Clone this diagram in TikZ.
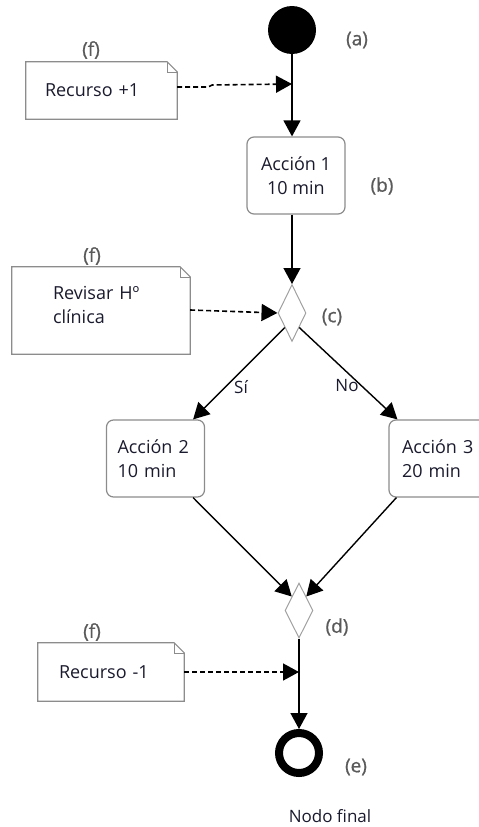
\documentclass[tikz,border=0pt]{standalone}
\usepackage{fontspec}
\setmainfont{Open Sans}
\newfontfamily\tagfont{Open Sans}[FakeBold=0.9]
\usetikzlibrary{arrows.meta,shapes.geometric,calc}
\definecolor{boxline}{HTML}{8C8C8C}
\definecolor{diamline}{HTML}{A0A0A0}
\definecolor{txt}{HTML}{1A1A2E}
\definecolor{tagc}{HTML}{5A5A5A}

\begin{document}
\begin{tikzpicture}[x=1pt,y=-1pt,
  every node/.style={font=\fontsize{18}{24}\selectfont, text=txt},
  flow/.style={line width=1.4pt, -{Triangle[length=16pt,width=17pt]}},
  dep/.style={line width=1.6pt, dash pattern=on 5pt off 3pt, -{Triangle[length=16pt,width=17pt]}},
  action/.style={draw=boxline, line width=1.2pt, rounded corners=7pt,
    minimum height=77pt, inner ysep=0pt},
  decision/.style={diamond, draw=diamline, line width=1pt, minimum width=28pt,
    minimum height=57pt, inner sep=0pt},
  notebox/.style={rectangle, inner ysep=0pt, align=left},
  noteline/.style={draw=boxline, line width=1.2pt},
  foldline/.style={draw=boxline, line width=0.6pt},
  tag/.style={text=tagc, font=\tagfont\fontsize{19}{22}\selectfont},
]
\useasboundingbox (0,0) rectangle (479,827);
\clip (0,0) rectangle (479,827);

% initial and final nodes
\node[circle, fill=black, minimum size=48pt, inner sep=0pt] (start) at (292,30) {};
\node[circle, draw=black, line width=8pt, minimum size=40pt, inner sep=0pt] (final) at (299,753) {};

% actions
\node[action, align=center, minimum width=98pt, inner xsep=0pt] (a1) at (296,175.5) {Acción 1\\10 min};
\node[action, align=left, inner xsep=11pt, text width=76pt] (a2) at (155.5,458.5) {Acción 2\\10 min};
\node[action, align=left, inner xsep=13pt, text width=74pt] (a3) at (439,458.5) {Acción 3\\20 min};

% decision and merge
\node[decision] (c) at (292,313) {};
\node[decision, minimum height=55pt] (d) at (299,610.5) {};

% notes
\node[notebox, inner xsep=19pt, text width=113pt, minimum height=57pt] (n1) at (101.5,90.5) {Recurso +1};
\node[notebox, inner xsep=41pt, text width=96pt, minimum height=87pt] (n2) at (101,310.5) {Revisar Hº\\clínica\rule[-12pt]{0pt}{0pt}};
\node[notebox, inner xsep=21pt, text width=104pt, minimum height=58pt] (n3) at (111,672) {Recurso -1};

\foreach \n in {n1,n2,n3}{
  \draw[noteline] (\n.north west) -- ($(\n.north east)+(-10,0)$)
    -- ($(\n.north east)+(0,10)$) -- (\n.south east) -- (\n.south west) -- cycle;
  \draw[foldline] ($(\n.north east)+(-10,0)$) |- ($(\n.north east)+(0,10)$);
}

% labels
\node[tag] (ta) at (357,40) {(a)};
\node[tag] (tb) at (382,186) {(b)};
\node[tag] (tc) at (332,317) {(c)};
\node[tag] (td) at (337,627) {(d)};
\node[tag] (te) at (356,767) {(e)};
\node[tag] (f1) at (91,50) {(f)};
\node[tag] (f2) at (92,256) {(f)};
\node[tag] (f3) at (92,632) {(f)};
\node[font=\fontsize{17}{20}\selectfont] (si) at (241,387) {Sí};
\node[font=\fontsize{17}{20}\selectfont] (no) at (347,386) {No};
\node[font=\fontsize{17}{20}\selectfont] (fin) at (330,816) {Nodo final};

% control flow
\draw[flow] (start) -- (start |- a1.north);
\draw[flow] (a1.south -| c.north) -- (c.north);
\draw[flow] (c.south west) -- ($(a2.north east)+(-12,0)$);
\draw[flow] (c.south east) -- ($(a3.north west)+(9,0)$);
\draw[flow] ($(a2.south east)+(-12,0)$) -- (d.north west);
\draw[flow] ($(a3.south west)+(8,0)$) -- (d.north east);
\draw[flow] (d.south) -- (final);

% resource notes attached to the flow
\coordinate (p1) at (292,84);
\coordinate (p3) at (299,672);
\draw[dep] (n1.east |- 0,87) -- ++(31,0) -- ++(4,-2) -- (p1);
\draw[dep] (n2.east |- 0,310) -- (c.west);
\draw[dep] (n3.east) -- (p3);
\end{tikzpicture}
\end{document}
